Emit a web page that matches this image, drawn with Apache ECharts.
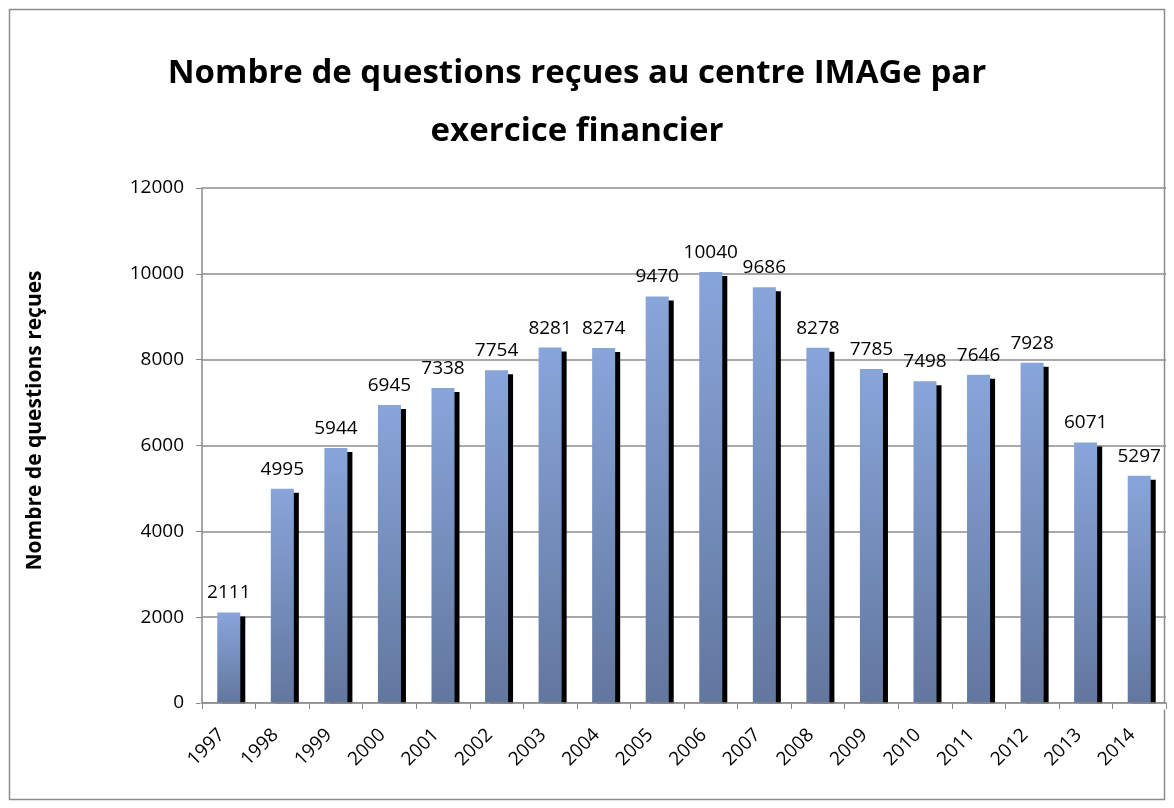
<!DOCTYPE html>
<html>
<head>
<meta charset="utf-8">
<script src="https://cdn.jsdelivr.net/npm/echarts@6/dist/echarts.min.js"></script>
<style>
  html, body { margin: 0; padding: 0; background: #fff; }
  #chart { width: 1174px; height: 808px; }
</style>
</head>
<body>
<div id="chart"></div>
<script>
// exercices financiers
const years = ['1997', '1998', '1999', '2000', '2001', '2002', '2003', '2004', '2005',
  '2006', '2007', '2008', '2009', '2010', '2011', '2012', '2013', '2014']
// nombre de questions reçues
const questions = [2111, 4995, 5944, 6945, 7338, 7754, 8281, 8274, 9470,
  10040, 9686, 8278, 7785, 7498, 7646, 7928, 6071, 5297]
const yTicks = [0, 2000, 4000, 6000, 8000, 10000, 12000]

const font = '"Open Sans", "Noto Sans", sans-serif'
const chart = echarts.init(document.getElementById('chart'))
const option = {
  backgroundColor: '#fff',
  animation: false,
  graphic: [
    {
      type: 'rect',
      z: 0,
      shape: { x: 9.5, y: 9.5, width: 1155, height: 790 },
      style: { fill: 'none', stroke: '#8c8c8c', lineWidth: 1.5 }
    },
    {
      // cache le bas de l'ombre sous l'axe
      type: 'rect',
      z: 3,
      shape: { x: 200, y: 703.5, width: 968, height: 6 },
      style: { fill: '#fff' }
    }
  ],
  title: {
    text: 'Nombre de questions reçues au centre IMAGe par\nexercice financier',
    left: 572,
    top: 40,
    textAlign: 'center',
    textStyle: {
      fontFamily: font,
      fontSize: 33,
      fontWeight: 'bold',
      color: '#000',
      lineHeight: 58
    }
  },
  grid: {
    left: 202,
    right: 8,
    top: 188,
    bottom: 105
  },
  xAxis: {
    type: 'category',
    data: years,
    z: 5,
    axisLine: { lineStyle: { color: '#888', width: 1.5 } },
    axisTick: { show: true, length: 6, lineStyle: { color: '#888' } },
    axisLabel: {
      rotate: 45,
      fontFamily: font,
      fontSize: 19,
      color: '#000',
      margin: 22,
      padding: [0, 10, 0, 0],
      align: 'right',
      verticalAlign: 'middle'
    }
  },
  yAxis: {
    type: 'value',
    min: yTicks[0],
    max: yTicks[yTicks.length - 1],
    interval: 2000,
    name: 'Nombre de questions reçues',
    nameLocation: 'middle',
    nameGap: 156,
    nameRotate: 90,
    nameTextStyle: {
      fontFamily: font,
      fontSize: 21,
      fontWeight: 'bold',
      color: '#000',
      padding: [0, 0, 0, 50]
    },
    axisLine: { show: true, lineStyle: { color: '#888', width: 1.5 } },
    axisTick: { show: true, length: 6, lineStyle: { color: '#888' } },
    axisLabel: {
      fontFamily: font,
      fontSize: 19,
      color: '#000',
      margin: 18,
      formatter: v => String(v)
    },
    splitLine: { lineStyle: { color: '#8c8c8c', width: 1.5 } }
  },
  series: [
    {
      type: 'bar',
      data: questions,
      barWidth: '43%',
      itemStyle: {
        color: new echarts.graphic.LinearGradient(0, 0, 0, 1, [
          { offset: 0, color: '#88a5da' },
          { offset: 1, color: '#62779e' }
        ]),
        shadowColor: '#000',
        shadowBlur: 0,
        shadowOffsetX: 5,
        shadowOffsetY: 4
      },
      label: {
        show: true,
        position: 'top',
        distance: 10,
        fontFamily: font,
        fontSize: 19,
        color: '#000'
      }
    }
  ]
}
chart.setOption(option)
</script>
</body>
</html>
